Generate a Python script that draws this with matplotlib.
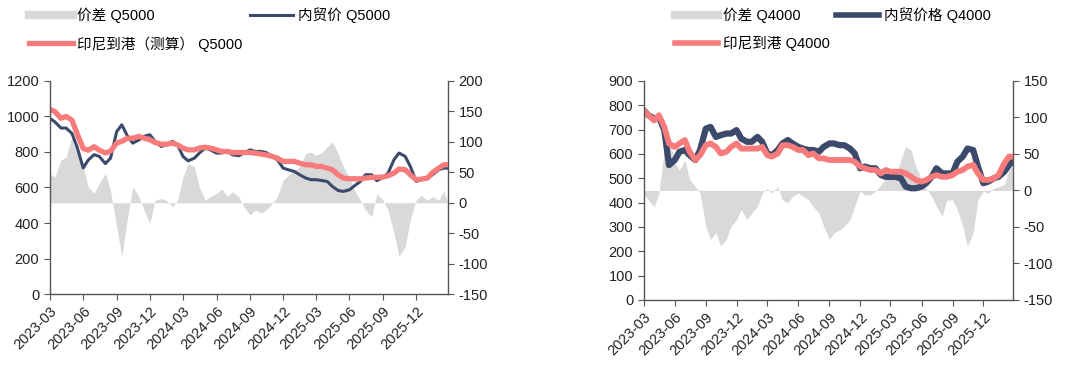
import matplotlib
matplotlib.use("Agg")
import matplotlib.pyplot as plt
import matplotlib.dates as mdates
from matplotlib.lines import Line2D
import pandas as pd

plt.rcParams['font.family'] = ['Liberation Sans', 'Noto Sans CJK SC']
plt.rcParams['font.size'] = 10
plt.rcParams['axes.unicode_minus'] = False

# 日期：每月1日和15日，最后一个点为2026-02-25
dates = [pd.Timestamp(y, m, d) for y in (2023, 2024, 2025, 2026) for m in range(1, 13)
         for d in (1, 15)
         if pd.Timestamp(2023, 3, 1) <= pd.Timestamp(y, m, d) <= pd.Timestamp(2026, 2, 15)]
dates.append(pd.Timestamp(2026, 2, 25))

# Q5000
dom_5000 = [990, 970, 935, 935, 905, 830, 710, 755, 785, 775, 735, 765,
            915, 953, 888, 850, 868, 888, 897, 860,
            831, 840, 860, 840, 775, 750, 765, 794, 822, 812, 794, 794,
            803, 784, 779, 794, 812, 803, 803, 797, 775, 756, 709, 700,
            690, 672, 653, 644, 644, 640, 634, 606, 583, 578, 587, 610,
            634, 672, 672, 638, 657, 681, 756, 794, 775, 719, 634, 644,
            653, 672, 700, 709, 709]
indo_5000 = [1040, 1028, 990, 1000, 980, 905, 820, 810, 830, 810, 795, 805,
             850, 860, 878, 878, 888, 878, 869, 854,
             844, 844, 850, 840, 822, 812, 812, 822, 827, 822, 812, 803,
             803, 797, 797, 797, 797, 794, 788, 784, 775, 765, 747, 747,
             747, 737, 728, 728, 719, 719, 709, 700, 672, 653, 649, 649,
             649, 653, 657, 657, 659, 666, 681, 704, 700, 672, 644, 647,
             653, 685, 709, 728, 728]
spread_5000 = [48, 42, 70, 75, 108, 92, 59, 26, 15, 32, 48, 20,
               -40, -88, -23, 26, 10, -12, -34, 4,
               7, 4, -7, 4, 42, 64, 59, 26, 4, 10, 15, 23,
               10, 18, 10, -7, -20, -12, -17, -12, -1, 10, 37, 45,
               53, 59, 81, 83, 78, 81, 92, 100, 81, 59, 42, 20,
               4, -12, -23, 15, 4, -12, -50, -88, -72, -28, 4, 12,
               4, 10, 4, 20, 0]

# Q4000
dom_4000 = [780, 759, 745, 752, 698, 554, 575, 609, 616, 595, 575, 616,
            704, 711, 670, 677, 684, 684, 698, 663,
            650, 650, 670, 650, 602, 595, 616, 643, 657, 643, 629, 622,
            616, 616, 609, 629, 643, 643, 636, 636, 622, 602, 541, 548,
            541, 541, 513, 506, 506, 506, 500, 466, 459, 459, 466, 480,
            506, 541, 520, 520, 520, 568, 589, 622, 616, 548, 480, 486,
            500, 506, 527, 554, 568]
indo_4000 = [780, 759, 738, 759, 712, 643, 629, 643, 657, 609, 575, 595,
             636, 643, 629, 602, 609, 629, 643, 622,
             622, 622, 622, 629, 595, 589, 602, 636, 636, 629, 616, 616,
             595, 602, 582, 582, 575, 575, 575, 575, 575, 568, 548, 541,
             534, 534, 520, 534, 527, 527, 527, 520, 506, 493, 486, 493,
             506, 513, 506, 506, 513, 527, 534, 548, 555, 520, 493, 493,
             500, 513, 561, 589, 589]
spread_4000 = [-5, -13, -22, -4, 55, 74, 37, 28, 42, 15, 5, -4,
               -49, -67, -58, -76, -67, -49, -40, -26,
               -40, -31, -22, -4, 3, -4, 5, -13, -17, -8, -4, -8,
               -13, -22, -31, -49, -67, -58, -54, -49, -40, -22, -1, -6,
               -6, -1, 8, 17, 15, 17, 42, 60, 55, 33, 15, 2,
               -8, -22, -35, -13, -13, -26, -49, -76, -58, -13, -1, -4,
               3, 5, 8, 28, 33]

NAVY = '#3b4a6b'
PINK = '#f77b7b'
GRAY = '#d9d9d9'

fig = plt.figure(figsize=(10.8, 3.68), dpi=100)


def draw_panel(rect, dom, indo, spread, ylim, yticks, y2lim, y2ticks, xmax,
               dom_lw, indo_lw):
    ax = fig.add_axes(rect)
    ax2 = ax.twinx()
    # 折线画在面积图上面
    ax.set_zorder(ax2.get_zorder() + 1)
    ax.patch.set_visible(False)

    ax2.fill_between(dates, 0, spread, color=GRAY, lw=0)
    ax.plot(dates, dom, color=NAVY, lw=dom_lw, solid_capstyle='round')
    ax.plot(dates, indo, color=PINK, lw=indo_lw, solid_capstyle='round')

    ax.set_ylim(*ylim)
    ax.set_yticks(yticks)
    ax2.set_ylim(*y2lim)
    ax2.set_yticks(y2ticks)
    ax.set_xlim(pd.Timestamp(2023, 3, 1), xmax)
    ax.xaxis.set_major_locator(mdates.MonthLocator(bymonth=[3, 6, 9, 12]))
    ax.xaxis.set_major_formatter(mdates.DateFormatter('%Y-%m'))
    for lab in ax.get_xticklabels():
        lab.set_rotation(45)
        lab.set_ha('right')
        lab.set_rotation_mode('anchor')

    for a in (ax, ax2):
        a.spines['top'].set_visible(False)
        for s in ('left', 'right', 'bottom'):
            a.spines[s].set_color('#555555')
            a.spines[s].set_linewidth(1.0)
        a.tick_params(colors='#555555', labelcolor='#222222', length=4,
                      labelsize=10.5)
    ax.spines['right'].set_visible(False)
    ax2.spines['left'].set_visible(False)
    ax2.spines['bottom'].set_visible(False)
    return ax, ax2


draw_panel([0.046, 0.201, 0.369, 0.579], dom_5000, indo_5000, spread_5000,
           (0, 1200), range(0, 1201, 200), (-150, 200), range(-150, 201, 50),
           pd.Timestamp(2026, 2, 27), 2.2, 3.8)
draw_panel([0.596, 0.185, 0.342, 0.595], dom_4000, indo_4000, spread_4000,
           (0, 900), range(0, 901, 100), (-150, 150), range(-150, 151, 50),
           pd.Timestamp(2026, 2, 27), 4.5, 4.2)


def add_legend(labels, x, dom_lw, indo_lw, colsp):
    # ncol=2 按列排，所以顺序为 价差、印尼、内贸
    handles = [Line2D([], [], color=GRAY, lw=6),
               Line2D([], [], color=PINK, lw=indo_lw),
               Line2D([], [], color=NAVY, lw=dom_lw)]
    fig.legend(handles, [labels[0], labels[2], labels[1]], ncol=2,
               loc='upper left', bbox_to_anchor=(x, 1.0), frameon=False,
               fontsize=10.5, handlelength=3.0, handletextpad=0.3,
               columnspacing=colsp, labelspacing=0.9, borderaxespad=0.1)


add_legend(['价差 Q5000', '内贸价 Q5000', '印尼到港（测算） Q5000'],
           0.020, 2.2, 3.8, 0.5)
add_legend(['价差 Q4000', '内贸价格 Q4000', '印尼到港 Q4000'],
           0.618, 4.0, 4.0, 0.4)

fig.savefig('out.png', dpi=100)
